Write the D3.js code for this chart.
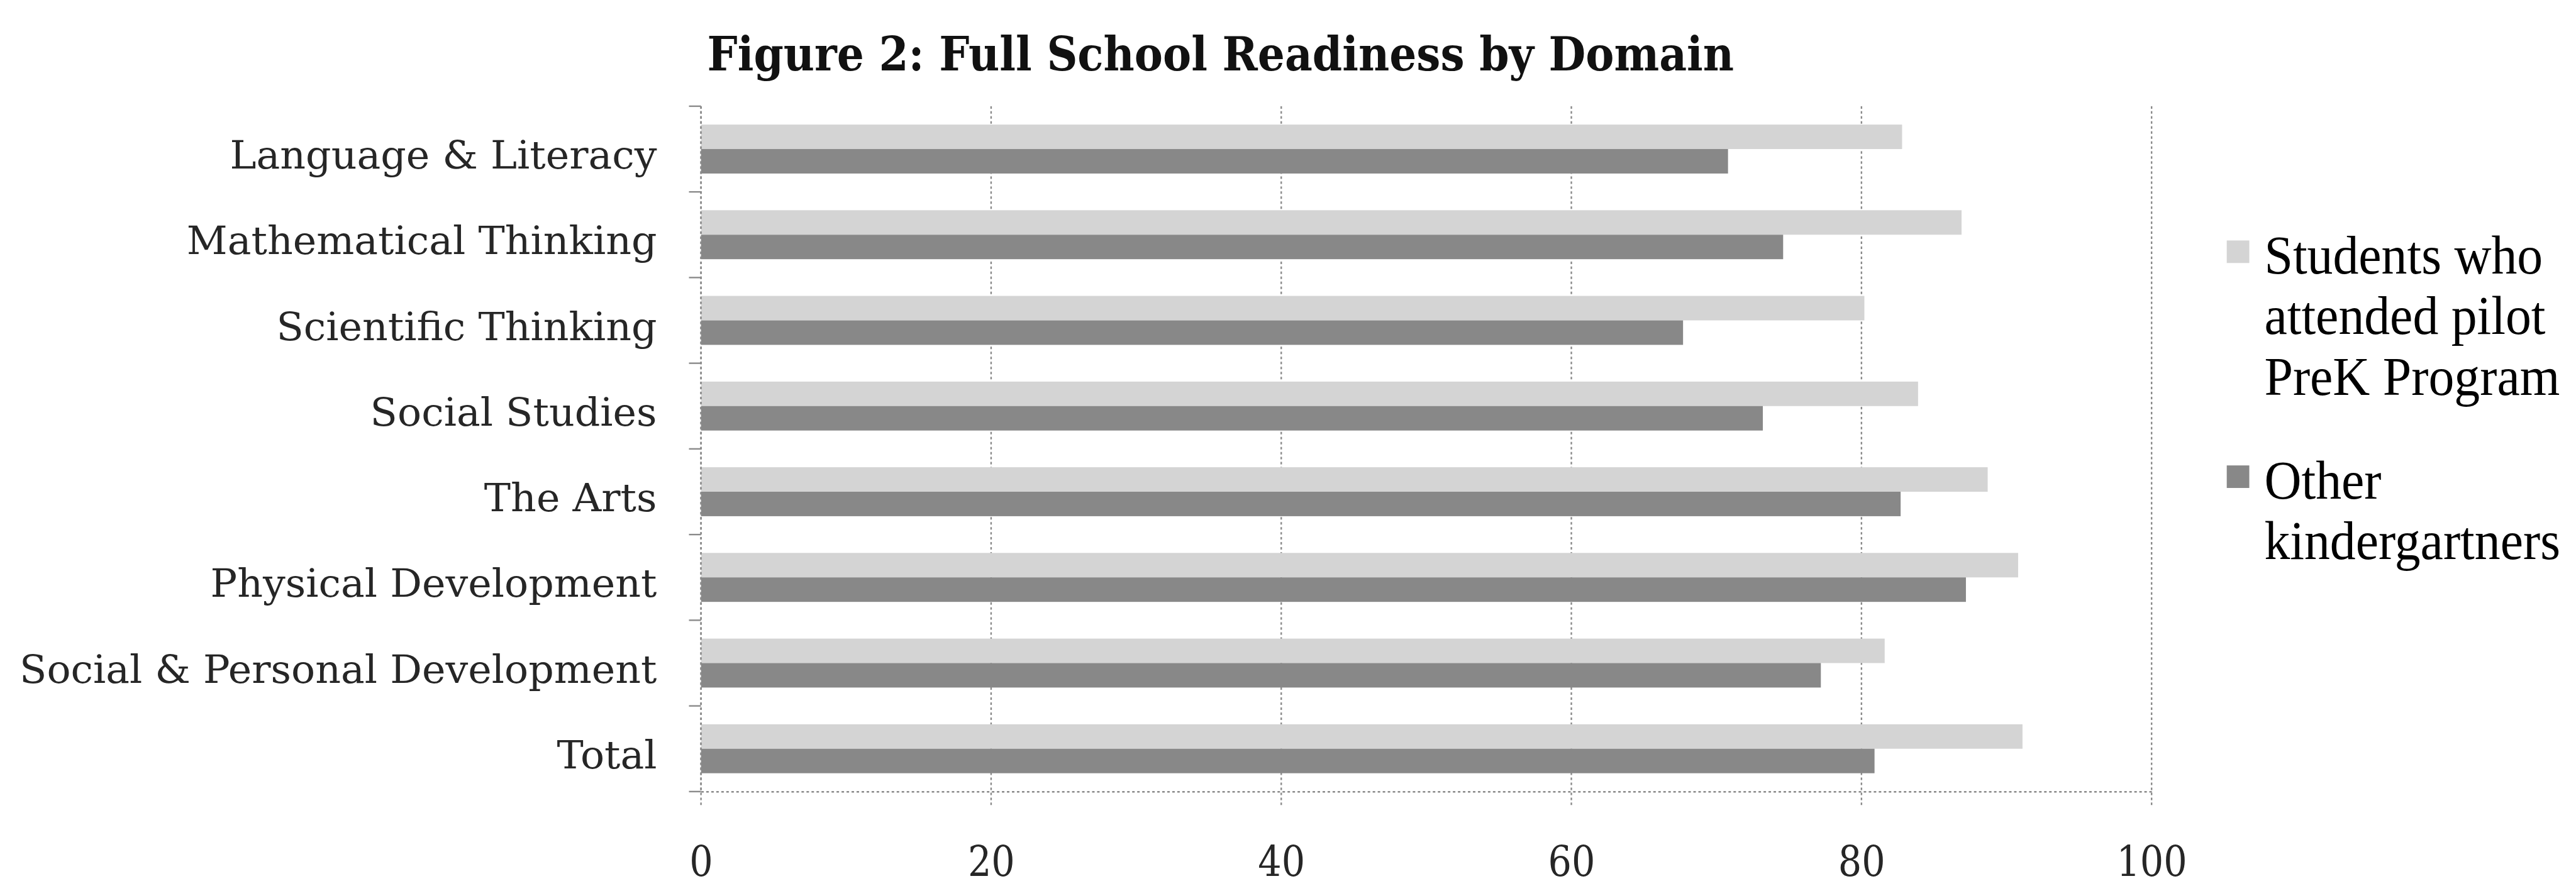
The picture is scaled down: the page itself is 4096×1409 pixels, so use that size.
<!DOCTYPE html>
<html>
<head>
<meta charset="utf-8">
<script src="https://cdn.jsdelivr.net/npm/d3@7"></script>
<style>
  html, body { margin: 0; padding: 0; background: #ffffff; overflow: hidden; }
  svg { display: block; }
</style>
</head>
<body>
<svg id="chart"></svg>
<script>
// ---- data ----
const categories = [
  "Language & Literacy",
  "Mathematical Thinking",
  "Scientific Thinking",
  "Social Studies",
  "The Arts",
  "Physical Development",
  "Social & Personal Development",
  "Total"
];
const seriesKeys = ["pilot", "other"];
const pilotValues = [82.8, 86.9, 80.2, 83.9, 88.7, 90.8, 81.6, 91.1];
const otherValues = [70.8, 74.6, 67.7, 73.2, 82.7, 87.2, 77.2, 80.9];
const xTicks = [0, 20, 40, 60, 80, 100];
const legendLabels = [
  ["Students who", "attended pilot", "PreK Program"],
  ["Other", "kindergartners"]
];
const titleText = "Figure 2: Full School Readiness by Domain";

// ---- layout (drawn on a 5141 x 1769 design canvas, scaled to the window) ----
const W = 4096, H = 1409;
const DW = 5141;
const k = W / DW;

const plot = { left: 1399, right: 4294, top: 212, bottom: 1580 };
const colors = { pilot: "#d4d4d4", other: "#888888" };
const serifFont = "'DejaVu Serif', 'Liberation Serif', serif";
const legendFont = "'Liberation Serif', 'DejaVu Serif', serif";

const svg = d3.select("#chart").attr("width", W).attr("height", H);
svg.append("rect").attr("width", W).attr("height", H).attr("fill", "#ffffff");
const root = svg.append("g").attr("transform", `scale(${k})`);

const rows = categories.map((c, i) => ({ category: c, pilot: pilotValues[i], other: otherValues[i] }));

const x = d3.scaleLinear().domain([0, 100]).range([plot.left, plot.right]);
const y = d3.scaleBand().domain(categories).range([plot.top, plot.bottom]).paddingInner(0).paddingOuter(0);
// two bars per category, gap of 150% of a bar width
const ySub = d3.scaleBand().domain(seriesKeys).range([0, y.bandwidth()]).paddingInner(0).paddingOuter(0.75);

// stretch/squeeze a text node to a given width
function fitWidth(sel, width) {
  sel.attr("textLength", width).attr("lengthAdjust", "spacingAndGlyphs");
}

// ---- gridlines (extend below the axis as tick marks) ----
const gridStyle = { stroke: "#8a8a8a", width: 3, dash: "5 5" };
root.append("g").attr("class", "grid")
  .selectAll("line").data(xTicks).join("line")
  .attr("x1", d => x(d)).attr("x2", d => x(d))
  .attr("y1", plot.top).attr("y2", plot.bottom + 28)
  .attr("stroke", gridStyle.stroke)
  .attr("stroke-width", gridStyle.width)
  .attr("stroke-dasharray", gridStyle.dash);

// ---- bars ----
const barGroups = root.append("g").attr("class", "bars")
  .selectAll("g").data(rows).join("g")
  .attr("transform", d => `translate(0,${y(d.category)})`);

barGroups.selectAll("rect")
  .data(d => seriesKeys.map(key => ({ key, value: d[key] })))
  .join("rect")
  .attr("x", x(0))
  .attr("y", d => ySub(d.key))
  .attr("width", d => x(d.value) - x(0))
  .attr("height", ySub.bandwidth())
  .attr("fill", d => colors[d.key]);

// ---- category axis (left) ----
const boundaries = categories.map(c => y(c)).concat([plot.bottom]);
root.append("g").attr("class", "y-ticks")
  .selectAll("line").data(boundaries).join("line")
  .attr("x1", plot.left - 24).attr("x2", plot.left)
  .attr("y1", d => d).attr("y2", d => d)
  .attr("stroke", gridStyle.stroke).attr("stroke-width", gridStyle.width);
root.append("line")
  .attr("x1", plot.left).attr("x2", plot.left)
  .attr("y1", plot.top).attr("y2", plot.bottom)
  .attr("stroke", gridStyle.stroke).attr("stroke-width", gridStyle.width)
  .attr("stroke-dasharray", gridStyle.dash);

const yAxis = root.append("g").attr("class", "y-axis")
  .attr("transform", `translate(${plot.left},0)`)
  .call(d3.axisLeft(y).tickSize(0).tickPadding(88));
yAxis.select(".domain").remove();
const catLabels = yAxis.selectAll("text")
  .attr("font-family", serifFont)
  .attr("font-size", 78)
  .attr("fill", "#262626")
  .attr("dy", null)
  .attr("y", 39);
// common horizontal squeeze so the longest label spans its measured width
let longest = 0;
catLabels.each(function () { longest = Math.max(longest, this.getComputedTextLength()); });
const catScale = 1272 / longest;
catLabels.each(function () {
  d3.select(this).call(fitWidth, this.getComputedTextLength() * catScale);
});

// ---- value axis (bottom) ----
const xAxis = root.append("g").attr("class", "x-axis")
  .attr("transform", `translate(0,${plot.bottom})`)
  .call(d3.axisBottom(x).tickValues(xTicks).tickSizeInner(0).tickSizeOuter(0).tickFormat(d3.format("d")));
xAxis.select(".domain")
  .attr("stroke", gridStyle.stroke).attr("stroke-width", gridStyle.width)
  .attr("stroke-dasharray", gridStyle.dash);
xAxis.selectAll("text")
  .attr("font-family", serifFont)
  .attr("font-size", 84)
  .attr("fill", "#262626")
  .attr("dy", null)
  .attr("y", 168);
xAxis.selectAll("text").each(function () {
  d3.select(this).call(fitWidth, this.getComputedTextLength() * 0.88);
});

// ---- title ----
const title = root.append("text")
  .attr("x", 2436).attr("y", 140)
  .attr("text-anchor", "middle")
  .attr("font-family", serifFont)
  .attr("font-weight", "bold")
  .attr("font-size", 94)
  .attr("fill", "#111111")
  .text(titleText);
title.call(fitWidth, 2049);

// ---- legend ----
const legend = root.append("g").attr("class", "legend");
const legendX = 4519, lineStep = 121, entryGap = 207;
let baseline = 546;
seriesKeys.forEach((key, i) => {
  legend.append("rect")
    .attr("x", 4444).attr("y", baseline - 66)
    .attr("width", 45).attr("height", 45)
    .attr("fill", colors[key]);
  legendLabels[i].forEach((line, j) => {
    const t = legend.append("text")
      .attr("x", legendX).attr("y", baseline + j * lineStep)
      .attr("font-family", legendFont)
      .attr("font-size", 108)
      .attr("fill", "#000000")
      .text(line);
    t.call(fitWidth, t.node().getComputedTextLength() * 0.95);
  });
  baseline += (legendLabels[i].length - 1) * lineStep + entryGap;
});
</script>
</body>
</html>
